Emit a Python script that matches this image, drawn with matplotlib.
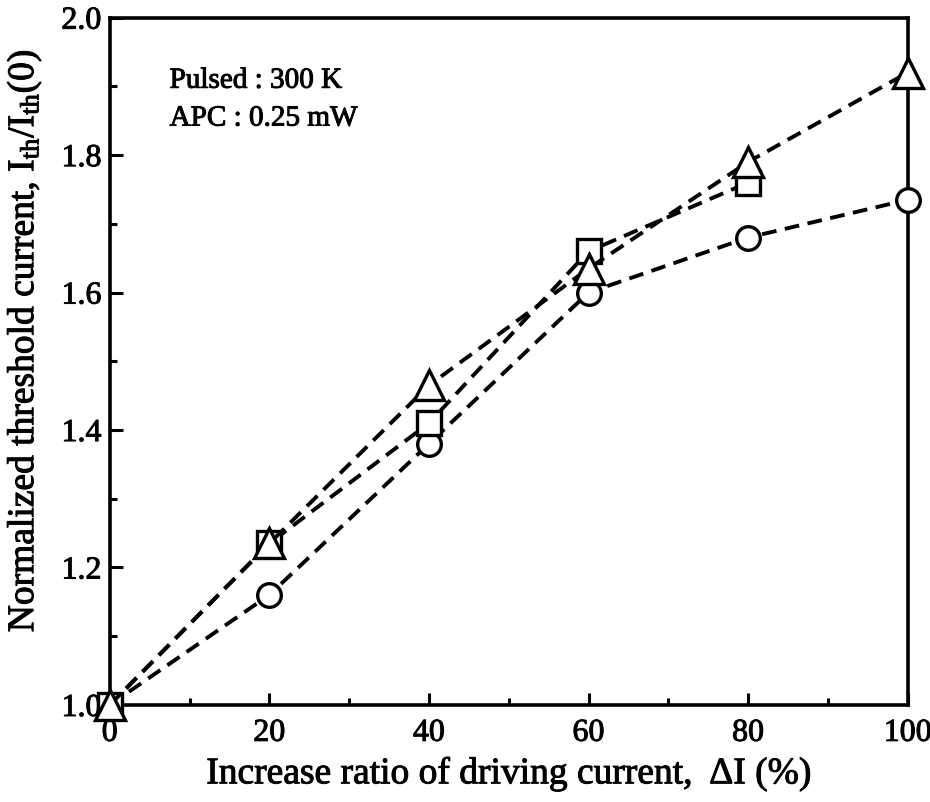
import matplotlib.pyplot as plt
import matplotlib.patheffects as pe

plt.rcParams['font.family'] = ['Liberation Serif', 'DejaVu Serif']
plt.rcParams['mathtext.fontset'] = 'custom'
plt.rcParams['mathtext.rm'] = 'Liberation Serif'
plt.rcParams['mathtext.it'] = 'Liberation Serif:italic'

# Данные: относительный рост тока накачки и порогового тока
dI_circle = [0, 20, 40, 60, 80, 100]
ith_circle = [1.0, 1.16, 1.38, 1.60, 1.68, 1.735]

dI_square = [0, 20, 40, 60, 80]
ith_square = [1.0, 1.235, 1.41, 1.66, 1.76]

dI_tri = [0, 20, 40, 60, 80, 100]
ith_tri = [1.0, 1.235, 1.465, 1.635, 1.79, 1.92]

x_ticks = [0, 20, 40, 60, 80, 100]
y_ticks = [1.0, 1.2, 1.4, 1.6, 1.8, 2.0]

fig = plt.figure(figsize=(9.3, 8.02), dpi=100)
ax = fig.add_axes([0.118, 0.121, 0.858, 0.857])

style = dict(color='black', linestyle='--', linewidth=2.8, dashes=(3.8, 2.2),
             markerfacecolor='white', markeredgecolor='black',
             markeredgewidth=2.4, clip_on=False)

ax.plot(dI_circle, ith_circle, marker='o', markersize=17, zorder=3, **style)
ax.plot(dI_square, ith_square, marker='s', markersize=17, zorder=4, **style)
ax.plot(dI_tri, ith_tri, marker='^', markersize=21, zorder=5, **style)

ax.set_xlim(0, 100)
ax.set_ylim(1.0, 2.0)
ax.set_xticks(x_ticks)
ax.set_yticks(y_ticks)
ax.set_xticks(range(10, 100, 20), minor=True)
ax.set_yticks([1.1, 1.3, 1.5, 1.7, 1.9], minor=True)
ax.set_yticklabels(['%.1f' % v for v in y_ticks])

ax.tick_params(axis='both', which='both', direction='in', width=2.2,
               top=False, right=False)
ax.tick_params(axis='both', which='major', length=9, labelsize=23)
ax.tick_params(axis='both', which='minor', length=5)
ax.tick_params(axis='x', which='major', pad=10)
ax.tick_params(axis='y', which='major', pad=6)

for sp in ax.spines.values():
    sp.set_linewidth(2.6)

# Чуть утолщаем шрифт, как в печатном оригинале
heavy = [pe.withStroke(linewidth=0.7, foreground='black')]

ax.set_xlabel('Increase ratio of driving current,  \u0394I (%)', fontsize=27,
              labelpad=6, path_effects=heavy)
ax.set_ylabel(r'Normalized threshold current, I$_{\mathrm{th}}$/I$_{\mathrm{th}}$(0)',
              fontsize=27, path_effects=heavy)
ax.yaxis.set_label_coords(-0.083, 0.53)

for lab in ax.get_xticklabels() + ax.get_yticklabels():
    lab.set_path_effects(heavy)

# Условия измерения
ax.text(0.075, 0.898, 'Pulsed : 300 K', transform=ax.transAxes, fontsize=21,
        path_effects=heavy)
ax.text(0.075, 0.843, 'APC : 0.25 mW', transform=ax.transAxes, fontsize=21,
        path_effects=heavy)

fig.savefig('out.png', dpi=100)
